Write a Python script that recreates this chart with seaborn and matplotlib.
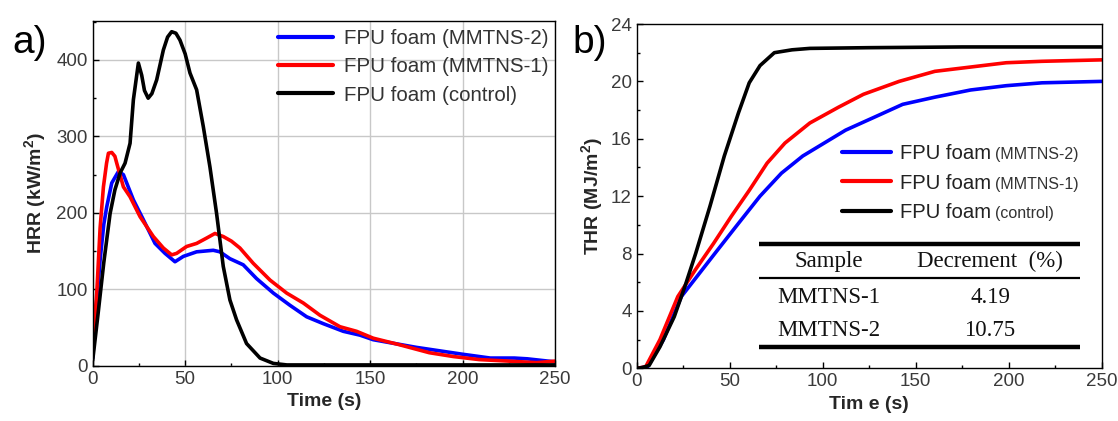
import numpy as np
import pandas as pd
import matplotlib
matplotlib.use("Agg")
import matplotlib.pyplot as plt
import seaborn as sns
from matplotlib.lines import Line2D
from matplotlib.ticker import MultipleLocator

# ---------------- data ----------------
series_names = ["FPU foam (MMTNS-2)", "FPU foam (MMTNS-1)", "FPU foam (control)"]
series_colors = ["#0000ff", "#ff0000", "#000000"]

# HRR (kW/m2) vs time (s)
hrr_t_mmtns2 = [0, 2, 4, 6, 7.6, 10.3, 13.9, 16.6, 22, 27.4, 33.7, 39.1, 44.5, 49, 56.2,
                65.2, 68.8, 74.2, 81.4, 88.6, 97.7, 106.7, 115.7, 124.7, 135.5, 144.5,
                151.7, 175, 200, 215, 228, 235, 250]
hrr_v_mmtns2 = [10, 80, 138, 185, 208, 239, 254, 250, 217, 191, 160, 147, 136, 143, 149,
                151, 149, 140, 132, 114, 95, 79, 64, 55, 45, 40, 34, 24, 15, 10, 10, 9, 5]

hrr_t_mmtns1 = [0, 2.2, 4, 5.8, 7.5, 8.5, 10.3, 12, 13, 16.6, 20.2, 25.6, 32.8, 38.2, 42.7,
                45.4, 50.8, 56.2, 61.6, 66.1, 70.6, 75, 79.6, 86.8, 95.9, 104.9, 113.9,
                122.9, 133.7, 142.7, 151.7, 165, 182, 195, 209, 225, 240, 250]
hrr_v_mmtns1 = [25, 95, 180, 234, 265, 278, 279, 274, 265, 234, 221, 195, 169, 154, 145,
                147, 156, 160, 167, 173, 169, 163, 154, 134, 112, 95, 82, 66, 51, 45, 36,
                28, 17, 12, 8, 6, 4, 6]

hrr_t_control = [0, 3, 6, 9.4, 12, 14.8, 17.5, 20.2, 22, 24.7, 26.5, 28, 30, 32, 34.6, 38.2,
                 40.5, 42.7, 45, 47.2, 50, 52.6, 56.2, 59.8, 63.4, 67, 70.6, 74.2, 77.8,
                 83.2, 90.5, 97.7, 105, 120, 150, 200, 250]
hrr_v_control = [7, 70, 135, 199, 230, 252, 265, 291, 348, 396, 380, 360, 350, 356, 374, 413,
                 430, 437, 435, 426, 408, 383, 361, 313, 260, 199, 130, 86, 60, 29, 10, 3,
                 1, 1, 1, 1, 1]

# THR (MJ/m2) vs time (s)
thr_t_mmtns2 = [0, 5.8, 14.4, 24, 33.6, 43.2, 54.7, 66.3, 77.8, 89.3, 100.8, 112.3, 127.7,
                143, 160.3, 179.5, 198.7, 217.9, 250]
thr_v_mmtns2 = [0, 0.1, 2.0, 5.0, 6.6, 8.2, 10.1, 12.0, 13.6, 14.8, 15.7, 16.6, 17.5, 18.4,
                18.9, 19.4, 19.7, 19.9, 20.0]

thr_t_mmtns1 = [0, 4.8, 12.5, 22.1, 31.7, 41.3, 50.9, 60.5, 70.1, 79.7, 93.1, 108.5, 121.9,
                141.1, 160.3, 179.5, 198.7, 217.9, 250]
thr_v_mmtns1 = [0, 0.1, 2.0, 5.0, 6.9, 8.7, 10.6, 12.4, 14.3, 15.7, 17.1, 18.2, 19.1, 20.0,
                20.7, 21.0, 21.3, 21.4, 21.5]

thr_t_control = [0, 3, 6.7, 12.5, 20.2, 25.9, 31.7, 39.4, 47.1, 54.7, 60.5, 66.3, 74, 83.5,
                 93.1, 125, 175, 250]
thr_v_control = [0, 0.05, 0.2, 1.5, 3.6, 5.7, 8.0, 11.3, 14.8, 17.8, 19.9, 21.1, 22.0, 22.2,
                 22.3, 22.35, 22.4, 22.4]

# inset table
table_header = ["Sample", "Decrement  (%)"]
table_samples = ["MMTNS-1", "MMTNS-2"]
table_decrement = ["4.19", "10.75"]

# ---------------- build frames ----------------
def long_frame(ts, vs):
    parts = []
    for name, t, v in zip(series_names, ts, vs):
        parts.append(pd.DataFrame({"t": t, "v": v, "series": name}))
    return pd.concat(parts, ignore_index=True)

df_hrr = long_frame([hrr_t_mmtns2, hrr_t_mmtns1, hrr_t_control],
                    [hrr_v_mmtns2, hrr_v_mmtns1, hrr_v_control])
df_thr = long_frame([thr_t_mmtns2, thr_t_mmtns1, thr_t_control],
                    [thr_v_mmtns2, thr_v_mmtns1, thr_v_control])

sns.set_theme(style="white")
plt.rcParams["font.family"] = ["Liberation Sans", "DejaVu Sans"]
plt.rcParams["mathtext.default"] = "regular"

W, H = 1118, 421
fig = plt.figure(figsize=(W / 100, H / 100), dpi=100)
ax_a = fig.add_axes([92.7 / W, 1 - 365.7 / H, (555 - 92.7) / W, (365.7 - 21) / H])
ax_b = fig.add_axes([636.7 / W, 1 - 368.3 / H, (1101.7 - 636.7) / W, (368.3 - 24) / H])

palette = dict(zip(series_names, series_colors))
tick_color = "#3a3a3a"

for ax, df in [(ax_a, df_hrr), (ax_b, df_thr)]:
    sns.lineplot(data=df, x="t", y="v", hue="series", hue_order=series_names,
                 palette=palette, sort=False, estimator=None, linewidth=2.6,
                 legend=False, ax=ax)
    ax.set_xlim(0, 250)
    ax.xaxis.set_major_locator(MultipleLocator(50))
    ax.xaxis.set_minor_locator(MultipleLocator(25))
    for s in ax.spines.values():
        s.set_color("black")
        s.set_linewidth(1.0)
    ax.tick_params(axis="both", which="both", direction="in", bottom=True, left=True,
                   top=False, right=False, colors="black", labelcolor=tick_color,
                   labelsize=13.5)
    ax.tick_params(which="major", length=4, width=1)
    ax.tick_params(which="minor", length=2.5, width=1)
    ax.set_xlabel("Time (s)", fontsize=14, fontweight="bold", labelpad=4)

# panel a
ax_a.set_ylim(0, 451)
ax_a.yaxis.set_major_locator(MultipleLocator(100))
ax_a.yaxis.set_minor_locator(MultipleLocator(50))
ax_a.grid(True, which="major", color="#c8c8c8", linewidth=1.0)
ax_a.set_axisbelow(True)
ax_a.set_ylabel("HRR (kW/m$^2$)", fontsize=14, fontweight="bold", labelpad=6)

handles = [Line2D([], [], color=c, lw=3) for c in series_colors]
leg_a = ax_a.legend(handles, series_names, loc="center right",
                    bbox_to_anchor=(0.985, 0.867), frameon=False, fontsize=14.8,
                    handlelength=2.7, handletextpad=0.5, labelspacing=0.45,
                    borderpad=0, borderaxespad=0)
for t in leg_a.get_texts():
    t.set_color("#333333")

# panel b
ax_b.set_ylim(0, 24)
ax_b.yaxis.set_major_locator(MultipleLocator(4))
ax_b.yaxis.set_minor_locator(MultipleLocator(2))
ax_b.set_ylabel("THR (MJ/m$^2$)", fontsize=14, fontweight="bold", labelpad=4)
ax_b.set_xlabel("Tim e (s)", fontsize=14, fontweight="bold", labelpad=4)

leg_b = ax_b.legend(handles, ["FPU foam"] * 3, loc="center left",
                    bbox_to_anchor=(0.442, 0.538), frameon=False, fontsize=14.6,
                    handlelength=2.4, handletextpad=0.45, labelspacing=0.5,
                    borderpad=0, borderaxespad=0)
for t in leg_b.get_texts():
    t.set_color("#222222")

# inset table in panel b (axes coordinates)
x0, x1 = 0.263, 0.953
ax_b.plot([x0, x1], [0.361, 0.361], transform=ax_b.transAxes, color="black", lw=3.2,
          solid_capstyle="butt")
ax_b.plot([x0, x1], [0.262, 0.262], transform=ax_b.transAxes, color="black", lw=1.6,
          solid_capstyle="butt")
ax_b.plot([x0, x1], [0.062, 0.062], transform=ax_b.transAxes, color="black", lw=3.2,
          solid_capstyle="butt")
serif = ["Liberation Serif", "DejaVu Serif"]
col_x = [0.413, 0.760]
tfs = 16.5
ax_b.text(col_x[0], 0.309, table_header[0], transform=ax_b.transAxes, ha="center",
          va="center", fontsize=tfs, family=serif, color="#111111")
ax_b.text(col_x[1], 0.309, table_header[1], transform=ax_b.transAxes, ha="center",
          va="center", fontsize=tfs, family=serif, color="#111111")
for row_y, sname, dec in zip([0.207, 0.111], table_samples, table_decrement):
    ax_b.text(col_x[0], row_y, sname, transform=ax_b.transAxes, ha="center",
              va="center", fontsize=tfs, family=serif, color="#111111")
    ax_b.text(col_x[1], row_y, dec, transform=ax_b.transAxes, ha="center",
              va="center", fontsize=tfs, family=serif, color="#111111")

# panel letters
fig.text(12 / W, 1 - 43 / H, "a)", fontsize=28, va="center", ha="left", color="black")
fig.text(572 / W, 1 - 43 / H, "b)", fontsize=28, va="center", ha="left", color="black")

# smaller parenthetical part of panel-b legend labels
fig.canvas.draw()
small = [n.replace("FPU foam", "").strip() for n in series_names]
for t, s in zip(leg_b.get_texts(), small):
    bb = t.get_window_extent()
    fig.text((bb.x1 + 4) / W, (bb.y0 + 1) / H, s, ha="left", va="bottom",
             fontsize=11.5, color="#333333")

fig.savefig("out.png", dpi=100)
